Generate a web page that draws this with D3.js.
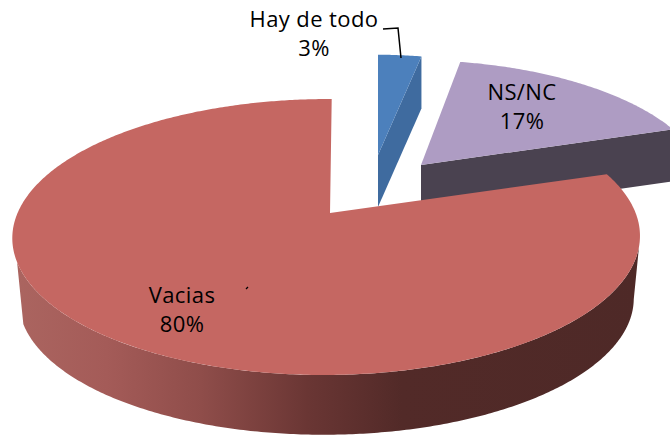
<!DOCTYPE html>
<html>
<head>
<meta charset="utf-8">
<script src="https://cdn.jsdelivr.net/npm/d3@7"></script>
<style>html,body{margin:0;padding:0;background:#fff;overflow:hidden}svg{display:block}</style>
</head>
<body>
<svg id="chart" width="670" height="435"></svg>
<script>
const categories = ["Hay de todo", "NS/NC", "Vacias"];
const values = [3, 17, 80];
const percentLabels = ["3%", "17%", "80%"];
const topColors = ["#4c80bc", "#ae9cc3", "#c56762"];
const wallColors = ["#3f6b9f", "#4a4250", "url(#wallGrad)"];

// exploded placement of each slice on the page
const layout = [
  {cx: 378, cy: 155, s: 0.88, skew: 0, depth: 52},
  {cx: 421, cy: 165, s: 0.92, skew: -8, depth: 52},
  {cx: 330, cy: 213, s: 1.00, skew: 2, depth: 60}
];
const labelPos = [[314, 27], [522, 100], [182, 303]];

const A = 309, B = 133.8, k = 0.174, j = 0.011;
const deg = Math.PI / 180;
const svg = d3.select("#chart");

const defs = svg.append("defs");
const grad = defs.append("linearGradient").attr("id", "wallGrad")
  .attr("gradientUnits", "userSpaceOnUse")
  .attr("x1", 13).attr("x2", 640).attr("y1", 0).attr("y2", 0);
[[0, "#ab6560"], [0.15, "#a45b58"], [0.3, "#8f4d4a"], [0.47, "#6a3634"], [0.62, "#522a28"], [1, "#4e2927"]]
  .forEach(d => grad.append("stop").attr("offset", d[0]).attr("stop-color", d[1]));

const arcs = d3.pie().sort(null).startAngle(0).endAngle(2 * Math.PI)(values);

function project(a, i, r) {
  const L = layout[i];
  const u = Math.sin(a) * r, v = Math.cos(a) * r;
  const den = 1 + k * v + j * u;
  return [L.cx + L.s * (A * u + L.skew * v) / den, L.cy - L.s * B * v / den];
}
const line = d3.line();
const arcPts = (a0, a1, i) => {
  const n = Math.max(2, Math.ceil(Math.abs(a1 - a0) / 0.01));
  return d3.range(n + 1).map(t => project(a0 + (a1 - a0) * t / n, i, 1));
};

// Blue and purple slices: cut wall, then top face
[0, 1].forEach(i => {
  const a = arcs[i], L = layout[i];
  const apex = project(0, i, 0), end = project(a.endAngle, i, 1);
  svg.append("path").attr("fill", wallColors[i])
    .attr("d", line([apex, end, [end[0], end[1] + L.depth], [apex[0], apex[1] + L.depth]]) + "Z");
  svg.append("path").attr("fill", topColors[i])
    .attr("d", line([apex, ...arcPts(a.startAngle, a.endAngle, i)]) + "Z");
});
// Red slice: outer wall (lower disc is slightly smaller and further away), then top face
{
  const a = arcs[2], L = layout[2];
  const lower = p => [L.cx + (p[0] - L.cx) * 0.98, L.cy + (p[1] - L.cy) * 0.98 + 63];
  const rim = arcPts(104 * deg, 250 * deg, 2);
  const floor = arcPts(100 * deg, 250 * deg, 2).map(lower).reverse();
  svg.append("path").attr("fill", wallColors[2])
    .attr("d", line([...rim, ...floor]) + "Z");
  svg.append("path").attr("fill", topColors[2])
    .attr("d", line([project(0, 2, 0), ...arcPts(a.startAngle, a.endAngle, 2)]) + "Z");
}

// Leader line and stray mark
svg.append("path").attr("fill", "none").attr("stroke", "#000").attr("stroke-width", 1.5)
  .attr("d", line([[383, 29], [398, 28], [401, 58]]));
svg.append("path").attr("fill", "none").attr("stroke", "#000").attr("stroke-width", 1.3)
  .attr("d", line([[246, 289], [248, 287]]));

// Labels
categories.forEach((c, i) => {
  const t = svg.append("text").attr("text-anchor", "middle")
    .attr("font-family", "'Open Sans', 'Noto Sans', sans-serif")
    .attr("font-size", 22).attr("letter-spacing", 0.4).attr("fill", "#000");
  t.append("tspan").attr("x", labelPos[i][0]).attr("y", labelPos[i][1]).text(c);
  t.append("tspan").attr("x", labelPos[i][0]).attr("y", labelPos[i][1] + 29).text(percentLabels[i]);
});
</script>
</body>
</html>
